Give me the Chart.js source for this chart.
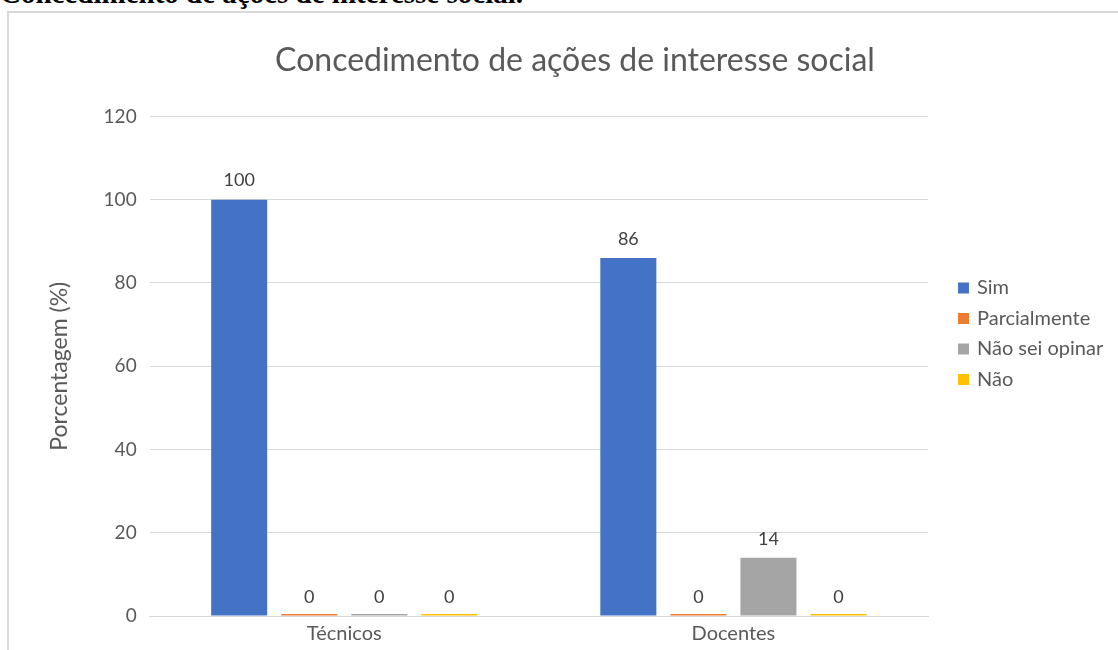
<!DOCTYPE html>
<html>
<head>
<meta charset="utf-8">
<script src="https://cdn.jsdelivr.net/npm/chart.js@4/dist/chart.umd.min.js"></script>
<style>
  html, body { margin: 0; padding: 0; background: #fff; overflow: hidden; }
  #caption {
    position: absolute; left: 0; top: -23px; white-space: nowrap;
    font-family: "Liberation Serif", serif; font-weight: bold; font-size: 29px; color: #000;
  }
  #box {
    position: absolute; left: 7px; top: 11px; width: 1130px; height: 660px;
    border: 2px solid #d9d9d9; background: #fff;
  }
  #chartWrap { position: absolute; left: 0; top: 0; width: 1109px; height: 640px; }
</style>
</head>
<body>
<div id="caption">Concedimento de ações de interesse social.</div>
<div id="box">
  <div id="chartWrap"><canvas id="myChart"></canvas></div>
</div>
<script>
const categories = ["Técnicos", "Docentes"];
const seriesNames = ["Sim", "Parcialmente", "Não sei opinar", "Não"];
const seriesColors = ["#4472C4", "#ED7D31", "#A5A5A5", "#FFC000"];
const sim = [100, 86];
const parcialmente = [0, 0];
const naoSeiOpinar = [0, 14];
const nao = [0, 0];
const yTicks = [0, 20, 40, 60, 80, 100, 120];

const FONT = "Lato";
const TEXT = "#595959";

// value labels above the bars
const valueLabels = {
  id: "valueLabels",
  afterDatasetsDraw(chart) {
    const { ctx } = chart;
    ctx.save();
    ctx.font = "18px " + FONT;
    ctx.fillStyle = "#404040";
    ctx.textAlign = "center";
    ctx.textBaseline = "middle";
    chart.data.datasets.forEach((ds, i) => {
      chart.getDatasetMeta(i).data.forEach((bar, j) => {
        const top = chart.scales.y.getPixelForValue(ds.data[j]);
        ctx.fillText(String(ds.data[j]), bar.x, top - 19);
      });
    });
    ctx.restore();
  }
};

// legend on the right, like the office one
const sideLegend = {
  id: "sideLegend",
  afterDraw(chart) {
    const { ctx } = chart;
    ctx.save();
    ctx.font = "20px " + FONT;
    ctx.textBaseline = "middle";
    chart.data.datasets.forEach((ds, i) => {
      const cy = 275 + i * 30.5;
      ctx.fillStyle = ds.backgroundColor;
      ctx.fillRect(949, cy - 5.5, 11, 11);
      ctx.fillStyle = TEXT;
      ctx.fillText(ds.label, 968, cy);
    });
    ctx.restore();
  }
};

const values = [sim, parcialmente, naoSeiOpinar, nao];

const ctx = document.getElementById("myChart");
const myChart = new Chart(ctx, {
  type: "bar",
  plugins: [valueLabels, sideLegend],
  data: {
    labels: categories,
    datasets: seriesNames.map((name, i) => ({
      label: name,
      data: values[i],
      backgroundColor: seriesColors[i],
      borderWidth: 0,
      minBarLength: 2,
      categoryPercentage: 0.72,
      barPercentage: 0.8,
    })),
  },
  options: {
    responsive: true,
    maintainAspectRatio: false,
    animation: false,
    layout: {
      padding: { left: 23, right: 0, top: 0, bottom: 1 },
    },
    plugins: {
      legend: { display: false },
      tooltip: { enabled: false },
      title: {
        display: true,
        text: "Concedimento de ações de interesse social",
        color: TEXT,
        font: { family: FONT, size: 32, weight: "normal" },
        padding: { top: 28, bottom: 37 },
      },
    },
    scales: {
      x: {
        grid: { display: false, drawTicks: false },
        border: { display: true, color: "#d9d9d9", width: 1 },
        ticks: {
          color: TEXT,
          font: { family: FONT, size: 20 },
          padding: 6,
        },
      },
      y: {
        min: 0,
        max: 120,
        afterBuildTicks(scale) {
          scale.ticks = yTicks.map((v) => ({ value: v }));
        },
        grid: { color: "#d9d9d9", drawTicks: false },
        border: { display: false },
        ticks: {
          color: TEXT,
          font: { family: FONT, size: 19 },
          padding: 13,
        },
        title: {
          display: true,
          text: "Porcentagem (%)",
          color: TEXT,
          font: { family: FONT, size: 23 },
          padding: { top: 14, bottom: 17 },
        },
      },
      // empty axis on the right, keeps room for the legend
      legendRoom: {
        position: "right",
        axis: "y",
        display: true,
        grid: { display: false, drawTicks: false },
        border: { display: false },
        ticks: { display: false },
        afterFit(scale) {
          scale.width = 190;
        },
      },
    },
  },
});
</script>
</body>
</html>
